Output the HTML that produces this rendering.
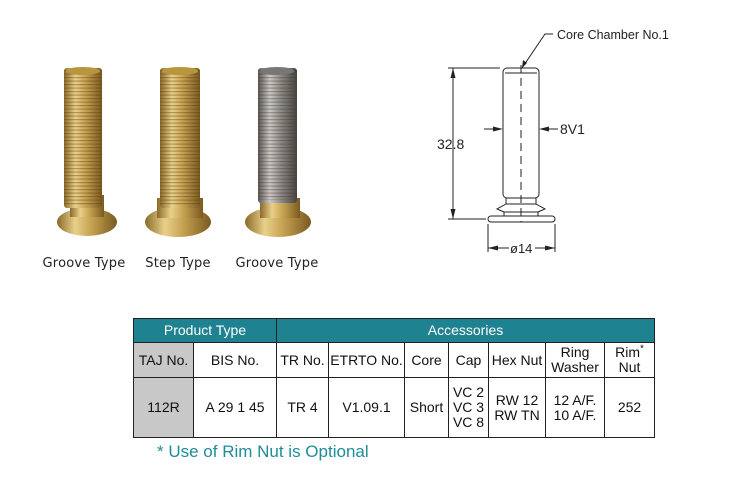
<!DOCTYPE html>
<html><head><meta charset="utf-8"><style>
body{margin:0;width:756px;height:481px;background:#fff;overflow:hidden;position:relative;font-family:"Liberation Sans",sans-serif}
.lbl{position:absolute;top:256px;font-size:13px;color:#222;font-family:"DejaVu Sans","Liberation Sans",sans-serif;transform:translateX(-50%);white-space:nowrap;letter-spacing:0.2px}
table{position:absolute;left:133px;top:318px;border-collapse:collapse;font-size:14px;color:#111}
td{border:1px solid #222;text-align:center;padding:0;line-height:15px}
.h td{background:#1e8290;color:#fff;height:23px;font-size:14px}
.foot{position:absolute;left:157px;top:442px;font-size:17px;color:#1e8d99}
</style></head><body>
<svg width="756" height="481" style="position:absolute;left:0;top:0">
<defs>
<linearGradient id="g" x1="0" x2="1"><stop offset="0" stop-color="#8a6a2a"/><stop offset=".3" stop-color="#e8d08a"/><stop offset=".55" stop-color="#c9a655"/><stop offset="1" stop-color="#7a5a20"/></linearGradient>
<linearGradient id="s" x1="0" x2="1"><stop offset="0" stop-color="#555"/><stop offset=".3" stop-color="#c8c8c8"/><stop offset=".6" stop-color="#888"/><stop offset="1" stop-color="#444"/></linearGradient>
<pattern id="th" width="4" height="3.5" patternUnits="userSpaceOnUse"><rect width="4" height="1.2" fill="rgba(80,50,10,.35)"/></pattern>
</defs>
<g>
<ellipse cx="87" cy="222" rx="30" ry="14" fill="url(#g)"/><rect x="70" y="195" width="34" height="22" fill="url(#g)"/>
<rect x="64" y="68" width="38" height="140" rx="3" fill="url(#g)"/><rect x="64" y="70" width="38" height="135" fill="url(#th)"/>
<ellipse cx="83" cy="71" rx="17" ry="4" fill="#b8963e"/>
<ellipse cx="178" cy="222" rx="33" ry="15" fill="url(#g)"/><rect x="157" y="198" width="46" height="20" fill="url(#g)"/>
<rect x="160" y="68" width="40" height="140" rx="3" fill="url(#g)"/><rect x="160" y="70" width="40" height="135" fill="url(#th)"/>
<ellipse cx="180" cy="71" rx="18" ry="4" fill="#b8963e"/>
<ellipse cx="278" cy="222" rx="33" ry="15" fill="url(#g)"/><rect x="260" y="198" width="40" height="20" fill="url(#g)"/>
<rect x="258" y="68" width="39" height="135" rx="3" fill="url(#s)"/><rect x="258" y="70" width="39" height="130" fill="url(#th)"/>
<ellipse cx="277" cy="71" rx="17" ry="4" fill="#777"/>
</g>
<g stroke="#222" fill="none" stroke-width="1">
<rect x="503" y="68" width="36" height="130" rx="4"/>
<line x1="505" y1="73" x2="537" y2="73"/>
<line x1="521" y1="65" x2="521" y2="222" stroke-dasharray="8,5"/>
<path d="M506 198 L506 204 L497 209 L504 212 L504 216 M536 198 L536 204 L545 209 L538 212 L538 216 M506 204 L536 204 M504 212 L538 212"/>
<rect x="488" y="216" width="67" height="6" rx="3"/>
<line x1="500" y1="68" x2="448" y2="68"/><line x1="486" y1="219" x2="448" y2="219"/>
<line x1="453" y1="68" x2="453" y2="219"/>
<line x1="488" y1="224" x2="488" y2="252"/><line x1="555" y1="224" x2="555" y2="252"/>
<line x1="488" y1="248" x2="509" y2="248"/><line x1="535" y1="248" x2="555" y2="248"/>
<line x1="484" y1="129" x2="500" y2="129"/><line x1="542" y1="129" x2="558" y2="129"/>
<polyline points="522,68 545,34 553,34"/>
</g>
<g fill="#222">
<path d="M453 68 l-2.5 10 h5z M453 219 l-2.5 -10 h5z M488 248 l10 -2.5 v5z M555 248 l-10 -2.5 v5z M503 129 l-10 -2.5 v5z M539 129 l10 -2.5 v5z M522 68 l1 -8 l4 3z"/>
</g>
<g font-family="Liberation Sans,sans-serif" fill="#222">
<text x="557" y="39" font-size="12.5">Core Chamber No.1</text>
<text x="560" y="134" font-size="14" font-weight="300">8V1</text>
<text x="437" y="149" font-size="14">32.8</text>
<text x="510" y="253" font-size="13">ø14</text>
</g>
</svg>
<div class="lbl" style="left:84px">Groove Type</div>
<div class="lbl" style="left:178px">Step Type</div>
<div class="lbl" style="left:277px">Groove Type</div>
<table>
<tr class="h"><td colspan="2">Product Type</td><td colspan="7">Accessories</td></tr>
<tr style="height:35px"><td style="width:59px;background:#c8c8c8">TAJ No.</td><td style="width:82px">BIS No.</td><td style="width:51px">TR No.</td><td style="width:75px">ETRTO No.</td><td style="width:43px">Core</td><td style="width:39px">Cap</td><td style="width:56px">Hex Nut</td><td style="width:58px">Ring<br>Washer</td><td style="width:49px">Rim<sup style="font-size:10px;line-height:0">*</sup><br>Nut</td></tr>
<tr style="height:60px"><td style="background:#c8c8c8">112R</td><td>A 29 1 45</td><td>TR 4</td><td>V1.09.1</td><td>Short</td><td>VC 2<br>VC 3<br>VC 8</td><td>RW 12<br>RW TN</td><td>12 A/F.<br>10 A/F.</td><td>252</td></tr>
</table>
<div class="foot">* Use of Rim Nut is Optional</div>
</body></html>
